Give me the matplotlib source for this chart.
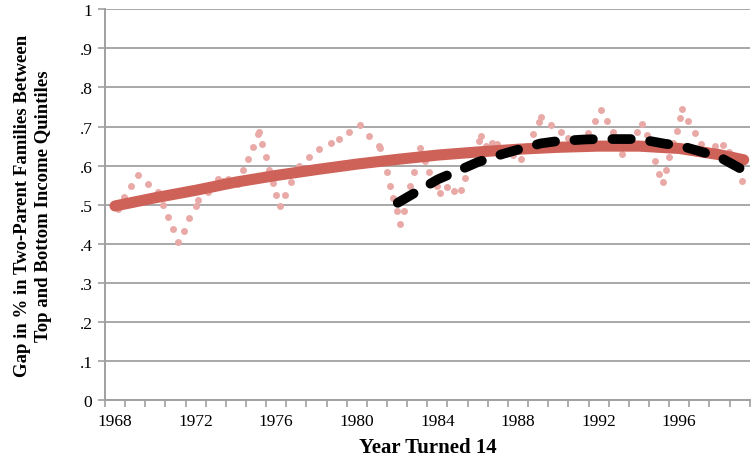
import matplotlib
matplotlib.use("Agg")
import matplotlib.pyplot as plt
from matplotlib.ticker import FixedLocator

# scattered cohort points (year turned 14, gap)
dot_year = [1968.15, 1968.46, 1968.81, 1969.14, 1969.64, 1970.14, 1970.39, 1970.64, 1970.89, 1971.12,
            1971.42, 1971.67, 1972.00, 1972.13, 1972.61, 1973.12, 1973.37, 1973.62, 1973.87, 1974.12,
            1974.37, 1974.62, 1974.87, 1975.10, 1975.15, 1975.31, 1975.48, 1975.65, 1975.85, 1976.01,
            1976.17, 1976.44, 1976.72, 1977.14, 1977.64, 1978.13, 1978.71, 1979.13, 1979.63, 1980.17,
            1980.62, 1981.08, 1981.17, 1981.48, 1981.65, 1981.82, 1981.98, 1982.14, 1982.33, 1982.66,
            1982.83, 1983.16, 1983.36, 1983.57, 1983.97, 1984.13, 1984.47, 1984.80, 1985.15, 1985.38,
            1985.63, 1986.06, 1986.14, 1986.41, 1986.71, 1986.96, 1987.25, 1987.50, 1987.75, 1988.13,
            1988.45, 1988.75, 1989.04, 1989.16, 1989.66, 1990.15, 1990.49, 1990.84, 1991.13, 1991.48,
            1991.82, 1992.14, 1992.44, 1992.73, 1993.14, 1993.54, 1993.89, 1994.13, 1994.38, 1994.80,
            1995.01, 1995.18, 1995.35, 1995.51, 1995.69, 1995.88, 1996.04, 1996.16, 1996.46, 1996.76,
            1997.07, 1997.35, 1997.80, 1998.16, 1998.45, 1998.75, 1999.11]
dot_gap = [0.490, 0.520, 0.547, 0.575, 0.553, 0.532, 0.500, 0.469, 0.439, 0.405,
           0.434, 0.466, 0.496, 0.511, 0.532, 0.566, 0.560, 0.565, 0.560, 0.554,
           0.588, 0.617, 0.649, 0.681, 0.687, 0.656, 0.622, 0.589, 0.555, 0.524,
           0.497, 0.526, 0.558, 0.600, 0.622, 0.643, 0.657, 0.667, 0.687, 0.703,
           0.677, 0.651, 0.646, 0.583, 0.549, 0.517, 0.484, 0.451, 0.484, 0.549,
           0.583, 0.645, 0.613, 0.583, 0.549, 0.530, 0.545, 0.535, 0.539, 0.568,
           0.600, 0.664, 0.677, 0.650, 0.658, 0.655, 0.645, 0.640, 0.628, 0.617,
           0.650, 0.681, 0.711, 0.724, 0.704, 0.686, 0.670, 0.655, 0.665, 0.683,
           0.713, 0.743, 0.713, 0.686, 0.630, 0.660, 0.687, 0.707, 0.679, 0.611,
           0.579, 0.558, 0.590, 0.622, 0.657, 0.688, 0.721, 0.745, 0.715, 0.684,
           0.656, 0.640, 0.651, 0.653, 0.635, 0.600, 0.562]

# smooth fit over the whole period
fit_year = [1968, 1970, 1972, 1974, 1976, 1978, 1980, 1982, 1984, 1986,
            1988, 1990, 1992, 1994, 1996, 1998, 1999.2]
fit_gap = [0.497, 0.518, 0.537, 0.558, 0.575, 0.590, 0.604, 0.616, 0.627, 0.635,
           0.642, 0.647, 0.650, 0.650, 0.644, 0.628, 0.615]

# fit from 1982 on (dashed)
late_year = [1982.03, 1984.02, 1985.16, 1986.0, 1987.25, 1988.0, 1989.14, 1990.0, 1991.33,
             1992.0, 1993.3, 1994.0, 1995.3, 1996.06, 1997.2, 1998.0, 1999.2]
late_gap = [0.505, 0.565, 0.590, 0.609, 0.630, 0.641, 0.657, 0.663, 0.667,
            0.668, 0.668, 0.668, 0.656, 0.651, 0.634, 0.622, 0.588]

year_labels = list(range(1968, 2000, 4))
y_ticks = [i / 10 for i in range(11)]
y_labels = ["0"] + ["." + str(i) for i in range(1, 10)] + ["1"]

plt.rcParams['font.family'] = ['Liberation Serif', 'DejaVu Serif']

fig = plt.figure(figsize=(7.55, 4.64), dpi=100)
ax = fig.add_axes([0.139, 0.135, 0.854, 0.843])

ax.plot(dot_year, dot_gap, 'o', color='#E8A9A7', markersize=5, markeredgewidth=0, zorder=2)
ax.plot(fit_year, fit_gap, '-', color='#CE6158', linewidth=8, solid_capstyle='round', zorder=3)
ax.plot(late_year, late_gap, '-', color='black', linewidth=7, dashes=(1.9, 2.0),
        dash_capstyle='round', zorder=4)

ax.set_xlim(1967.5, 1999.5)
ax.set_ylim(0, 1)
ax.set_yticks(y_ticks)
ax.set_yticklabels(y_labels, fontsize=12.5)
ax.set_xticks(year_labels)
ax.set_xticklabels([str(y) for y in year_labels], fontsize=12.5)
ax.xaxis.set_minor_locator(FixedLocator([1967.5 + k for k in range(33)]))
ax.tick_params(axis='x', which='major', length=0, pad=9)
ax.tick_params(axis='x', which='minor', length=5, color='#A0A0A0', width=1.2)
ax.tick_params(axis='y', length=5, color='#A0A0A0', width=1.2, pad=4)

ax.grid(axis='y', color='#A8A8A8', linewidth=1.4, zorder=0)
ax.set_axisbelow(True)
for s in ['top', 'right']:
    ax.spines[s].set_visible(False)
for s in ['left', 'bottom']:
    ax.spines[s].set_color('#A0A0A0')
    ax.spines[s].set_linewidth(1.4)

ax.set_xlabel('Year Turned 14', fontsize=15, fontweight='bold', labelpad=6)
ax.set_ylabel('Gap in % in Two-Parent Families Between\nTop and Bottom Income Quintiles',
              fontsize=13.5, fontweight='bold', labelpad=20, linespacing=1.3)

fig.savefig('out.png', dpi=100)
